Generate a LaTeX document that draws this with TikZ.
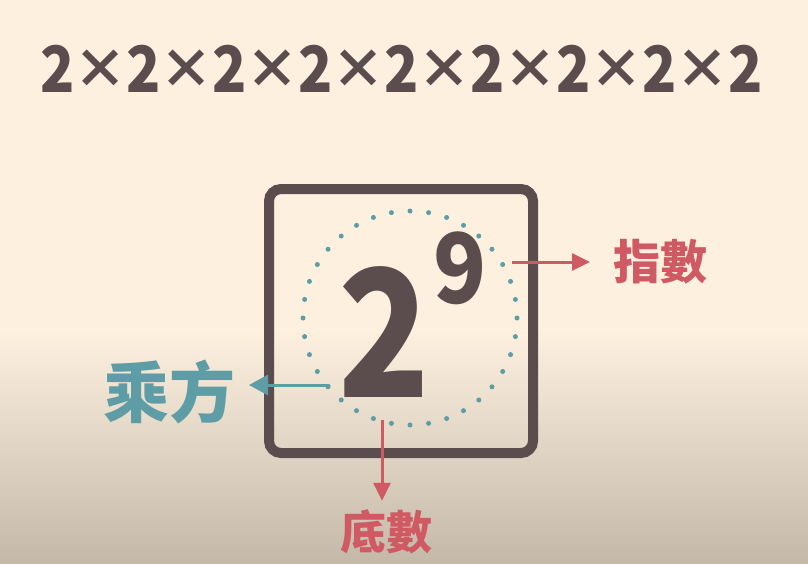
\documentclass[tikz,border=0pt]{standalone}
\usepackage{fontspec}
\setmainfont{Noto Sans CJK TC}
\usetikzlibrary{arrows.meta,positioning}

\definecolor{cream}{HTML}{FDF0DF}
\definecolor{sand}{HTML}{C4B9A9}
\definecolor{inkbrown}{HTML}{5B4D4E}
\definecolor{tealblue}{HTML}{5F9DA6}
\definecolor{rosered}{HTML}{D05A63}

\begin{document}
\begin{tikzpicture}[x=1pt,y=-1pt,
  every node/.style={inner sep=0,outer sep=0},
  title/.style={text=inkbrown,font=\bfseries\fontsize{64}{64}\selectfont,xscale=0.88,transform shape},
  timessign/.style={text=inkbrown,font=\bfseries\fontsize{54}{54}\selectfont},
  frame/.style={draw=inkbrown,line width=10pt,rounded corners=12pt,minimum width=264pt,minimum height=264pt},
  bigdigit/.style={text=inkbrown,font=\bfseries\fontsize{177}{177}\selectfont,xscale=0.85,transform shape},
  supdigit/.style={text=inkbrown,font=\bfseries\fontsize{97}{97}\selectfont,xscale=0.9,transform shape},
  word/.style={font=\bfseries\fontsize{47}{47}\selectfont},
  pointer/.style={line width=3pt,-{Triangle[length=18pt,width=17pt]}}]

\useasboundingbox (0,0) rectangle (808,563);
\fill[cream] (0,0) rectangle (808,563);
\shade[top color=cream,bottom color=sand] (0,330) rectangle (808,563);

% the product
\foreach \k in {0,...,8}
  \node[title] (two\k) at (57.5+86*\k,69) {2};
\foreach \k in {0,...,7}
  \node[timessign] (times\k) at (100.5+86*\k,69) {×};

% the power
\node[frame] (box) at (401,321) {};
\coordinate (ring) at (410,318);
\foreach \a in {0,10,...,350}
  \fill[tealblue] (ring) ++(\a:107) circle (2.5);
\node[bigdigit] (base) at (384,332) {2};
\node[supdigit] (expo) at (460,268) {9};

% labels
\node[word,text=rosered] (zhishu) at (660,262) {指數};
\node[word,text=rosered,font=\bfseries\fontsize{46}{46}\selectfont] (dishu) at (386,532) {底數};
\node[word,text=tealblue,font=\bfseries\fontsize{66}{66}\selectfont] (chengfang) at (169.5,392) {乘方};

\coordinate (expo-tail) at (512,262);
\coordinate (base-foot) at (382,420);
\coordinate (base-side) at (329,385);

\draw[pointer,rosered,shorten >=23pt] (expo-tail) -- (expo-tail -| zhishu.west);
\draw[pointer,rosered,shorten >=9pt] (base-foot) -- (base-foot |- dishu.north);
\draw[pointer,tealblue,line cap=round,-{Triangle[length=19pt,width=20pt]},shorten >=13.5pt] (base-side) -- (base-side -| chengfang.east);

\end{tikzpicture}
\end{document}
